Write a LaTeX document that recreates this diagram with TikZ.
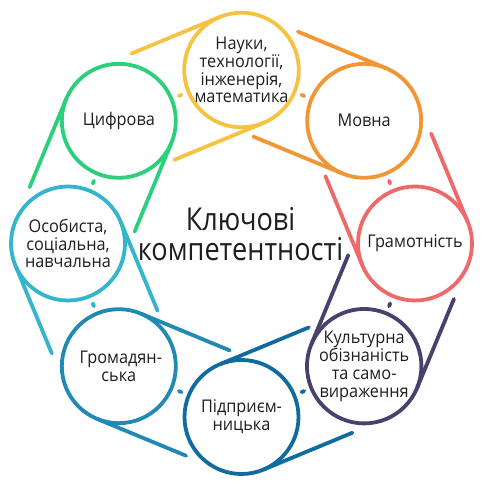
\documentclass[tikz,border=0pt]{standalone}
\usepackage{fontspec}
\setmainfont{Open Sans}
\newfontfamily\ringfont{Open Sans}[FakeStretch=0.93]
\newfontfamily\titlefont{Open Sans}[FakeStretch=0.86]
\usetikzlibrary{calc}
\definecolor{cyel}{RGB}{246,194,66}
\definecolor{corg}{RGB}{242,150,52}
\definecolor{cred}{RGB}{238,106,106}
\definecolor{cpur}{RGB}{74,64,110}
\definecolor{cdbl}{RGB}{16,108,158}
\definecolor{cblu}{RGB}{32,138,180}
\definecolor{clbl}{RGB}{52,180,205}
\definecolor{cgrn}{RGB}{44,208,124}
\definecolor{txt}{RGB}{30,30,30}
\tikzset{
  ring/.style={circle, draw=#1, line width=3.8pt, minimum size=114pt, inner sep=0pt, outer sep=0pt,
    align=center, text=txt, font=\ringfont\fontsize{17.5}{17.8}\selectfont},
  tline/.style={draw=#1, line width=3.8pt, line cap=round},
}
\begin{document}
\begin{tikzpicture}[x=1pt,y=1pt]
\useasboundingbox (0,0) rectangle (486,484);
\coordinate (C) at (241.5,240.5);
\def\R{173.5}
\node[ring=cyel] (Y) at ($(C)+(90:\R)$) {Науки,\\технології,\\інженерія,\\математика};
\node[ring=corg] (O) at ($(C)+(45:\R)$) {Мовна};
\node[ring=cred] (G) at ($(C)+(0:\R)$) {Грамотність};
\node[ring=cpur] (K) at ($(C)+(-45:\R)$) {Культурна\\обізнаність\\та само-\\вираження};
\node[ring=cdbl] (P) at ($(C)+(-90:\R)$) {Підприєм-\\ницька};
\node[ring=cblu] (H) at ($(C)+(-135:\R)$) {\hspace*{4pt}Громадян-\\ська};
\node[ring=clbl] (S) at ($(C)+(180:\R)$) {Особиста,\\соціальна,\\навчальна};
\node[ring=cgrn] (D) at ($(C)+(135:\R)$) {Цифрова};
\foreach \n/\a/\c/\m in {Y/90/cyel/D,O/45/corg/Y,G/0/cred/O,K/-45/cpur/G,P/-90/cdbl/K,H/-135/cblu/P,S/180/clbl/H,D/135/cgrn/S}{
  \pgfmathsetmacro\pa{\a+22.5}
  \pgfmathsetmacro\pb{\a+202.5}
  \pgfmathsetmacro\dir{\a+112.5}
  \draw[tline=\c] (\n.\pa) -- ++(\dir:96);
  \draw[tline=\c] (\n.\pb) -- ++(\dir:96);
  \draw[tline=\c] ($(\n)!0.5!(\m)$) ++(\dir:-1.5) -- ++(\dir:3);
}
\node[font=\titlefont\fontsize{31.5}{30}\selectfont, align=center, text=txt] (T) at (240.5,250) {Ключові\\компетентності};
\end{tikzpicture}
\end{document}
